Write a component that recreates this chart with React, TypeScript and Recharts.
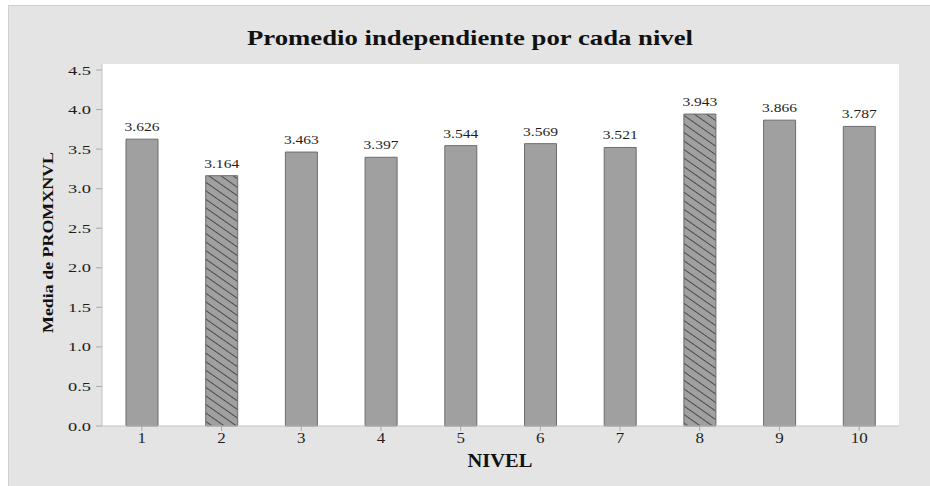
import React from "react";
import { BarChart, Bar, XAxis, YAxis, CartesianGrid, Cell, LabelList } from "recharts";

// Mean of PROMXNVL per NIVEL
const niveles = [1, 2, 3, 4, 5, 6, 7, 8, 9, 10];
const medias = [3.626, 3.164, 3.463, 3.397, 3.544, 3.569, 3.521, 3.943, 3.866, 3.787];
const nivelesRayados = [2, 8];
const yTicks = [0, 0.5, 1, 1.5, 2, 2.5, 3, 3.5, 4, 4.5];

const data = niveles.map((n, i) => ({ nivel: n, media: medias[i] }));

const SERIF = "'Liberation Serif', 'DejaVu Serif', serif";
const TEXT = "#1e1e1e";
const FRAME = "#c4c4c4";

function XTick(props: any) {
  const { x, y, payload } = props;
  const s = String(payload.value);
  return (
    <text
      x={x}
      y={y + 10}
      textAnchor="middle"
      fontFamily={SERIF}
      fontSize={14}
      fill={TEXT}
      textLength={s.length * 8.5}
      lengthAdjust="spacingAndGlyphs"
    >
      {s}
    </text>
  );
}

function YTick(props: any) {
  const { x, y, payload } = props;
  const s = Number(payload.value).toFixed(1);
  return (
    <text
      x={x - 3}
      y={y + 4.5}
      textAnchor="end"
      fontFamily={SERIF}
      fontSize={13.5}
      fill={TEXT}
      textLength={23}
      lengthAdjust="spacingAndGlyphs"
    >
      {s}
    </text>
  );
}

function ValueLabel(props: any) {
  const { x, y, width, value } = props;
  return (
    <text
      x={x + width / 2}
      y={y - 8}
      textAnchor="middle"
      fontFamily={SERIF}
      fontSize={13}
      fill={TEXT}
      textLength={35}
      lengthAdjust="spacingAndGlyphs"
    >
      {Number(value).toFixed(3)}
    </text>
  );
}

export default function App() {
  return (
    <div
      style={{
        position: "absolute",
        left: 8,
        top: 5,
        width: 922,
        height: 481,
        background: "#e4e4e4",
        borderLeft: "1px solid #d0d0d0",
        borderTop: "1px solid #d0d0d0",
        boxSizing: "border-box",
        overflow: "hidden",
      }}
    >
      <BarChart
        width={921}
        height={480}
        data={data}
        margin={{ top: 58, right: 31, left: 0, bottom: 0 }}
        barSize={32}
      >
        <defs>
          <pattern
            id="rayado"
            patternUnits="userSpaceOnUse"
            width={10}
            height={7}
            patternTransform="rotate(35)"
          >
            <rect x={0} y={0} width={10} height={7} fill="#a0a0a0" />
            <line x1={0} y1={3.5} x2={10} y2={3.5} stroke="#4a4a4a" strokeWidth={1} />
          </pattern>
        </defs>
        <CartesianGrid fill="#ffffff" horizontal={false} vertical={false} />
        <XAxis
          dataKey="nivel"
          height={60}
          tickSize={5}
          stroke={FRAME}
          tickLine={{ stroke: "#a8a8a8" }}
          tick={<XTick />}
          interval={0}
        />
        <XAxis xAxisId="arriba" dataKey="nivel" orientation="top" height={0} tick={false} tickLine={false} stroke={FRAME} />
        <YAxis
          width={93}
          domain={[0, 4.576]}
          ticks={yTicks}
          tickSize={6}
          stroke={FRAME}
          tickLine={{ stroke: "#a8a8a8" }}
          tick={<YTick />}
        />
        <YAxis yAxisId="derecha" orientation="right" width={0} tick={false} tickLine={false} stroke={FRAME} />
        <Bar dataKey="media" fill="#a0a0a0" stroke="#6c6c6c" strokeWidth={1} isAnimationActive={false}>
          {data.map((d) => (
            <Cell key={d.nivel} fill={nivelesRayados.includes(d.nivel) ? "url(#rayado)" : "#a0a0a0"} />
          ))}
          <LabelList dataKey="media" content={<ValueLabel />} />
        </Bar>
        <text
          x={461}
          y={39}
          textAnchor="middle"
          fontFamily={SERIF}
          fontWeight="bold"
          fontSize={21}
          fill="#111"
          textLength={446}
          lengthAdjust="spacingAndGlyphs"
        >
          Promedio independiente por cada nivel
        </text>
        <text
          x={491}
          y={461}
          textAnchor="middle"
          fontFamily={SERIF}
          fontWeight="bold"
          fontSize={18}
          fill="#111"
          textLength={65}
          lengthAdjust="spacingAndGlyphs"
        >
          NIVEL
        </text>
        <text
          transform="translate(44,236.5) rotate(-90)"
          textAnchor="middle"
          fontFamily={SERIF}
          fontWeight="bold"
          fontSize={15}
          fill="#111"
          textLength={181}
          lengthAdjust="spacingAndGlyphs"
        >
          Media de PROMXNVL
        </text>
      </BarChart>
    </div>
  );
}
